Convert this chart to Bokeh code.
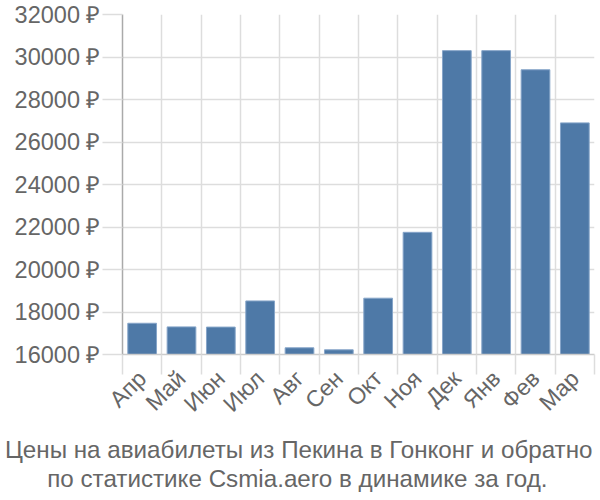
from bokeh.plotting import figure
from bokeh.models import FixedTicker, LinearAxis, Grid, Title, Range1d
from bokeh.embed import file_html
from bokeh.resources import INLINE

months = ["Апр", "Май", "Июн", "Июл", "Авг", "Сен", "Окт", "Ноя", "Дек", "Янв", "Фев", "Мар"]
prices = [17470, 17300, 17290, 18520, 16315, 16220, 18650, 21750, 30300, 30300, 29400, 26900]
y_ticks = [16000, 18000, 20000, 22000, 24000, 26000, 28000, 30000, 32000]
title_lines = ["Цены на авиабилеты из Пекина в Гонконг и обратно",
               "по статистике Csmia.aero в динамике за год."]

FONT = "Liberation Sans"
TXT = "#666666"
GRID = "#dddddd"

n = len(months)
centers = [i + 0.5 for i in range(n)]

p = figure(width=600, height=500, output_backend="svg", toolbar_location=None,
           x_range=Range1d(0, n), y_range=Range1d(16000, 32000),
           x_axis_location=None, y_axis_location=None,
           min_border_left=122, min_border_right=6, min_border_top=14, min_border_bottom=146)
p.outline_line_color = None
p.background_fill_color = "white"
p.border_fill_color = "white"

p.vbar(x=centers, top=prices, bottom=16000, width=0.73,
       fill_color="#4e79a7", line_color="#86a5c9", line_width=1)

# grids
p.xgrid.visible = False
p.ygrid.visible = False
p.add_layout(Grid(dimension=0, ticker=FixedTicker(ticks=list(range(n + 1))),
                  grid_line_color=GRID, grid_line_width=1.5))
p.add_layout(Grid(dimension=1, ticker=FixedTicker(ticks=y_ticks),
                  grid_line_color=GRID, grid_line_width=1.5))

# y axis
yax = LinearAxis(ticker=FixedTicker(ticks=y_ticks),
                 major_label_overrides={v: f"{v} ₽" for v in y_ticks})
yax.axis_line_color = "#aaaaaa"
yax.axis_line_width = 1.5
yax.major_tick_line_color = GRID
yax.major_tick_line_width = 1.5
yax.major_tick_out = 20
yax.major_tick_in = 0
yax.minor_tick_line_color = None
yax.major_label_standoff = 2
yax.major_label_text_font = FONT
yax.major_label_text_font_size = "23.5px"
yax.major_label_text_color = TXT
p.add_layout(yax, "left")

# x axis: boundary ticks
xt = LinearAxis(ticker=FixedTicker(ticks=list(range(n + 1))),
                major_label_overrides={i: "" for i in range(n + 1)})
xt.axis_line_color = "#cccccc"
xt.axis_line_width = 1.5
xt.major_tick_line_color = GRID
xt.major_tick_line_width = 1.5
xt.major_tick_out = 20
xt.major_tick_in = 0
xt.minor_tick_line_color = None
xt.major_label_text_font_size = "1px"
xt.major_label_standoff = 0
p.add_layout(xt, "below")

# x axis: labels
xl = LinearAxis(ticker=FixedTicker(ticks=centers),
                major_label_overrides={c: m for c, m in zip(centers, months)})
xl.axis_line_color = None
xl.major_tick_line_color = None
xl.minor_tick_line_color = None
xl.major_label_orientation = 0.785398
xl.major_label_standoff = -6
xl.major_label_text_font = FONT
xl.major_label_text_font_size = "23px"
xl.major_label_text_color = TXT
p.add_layout(xl, "below")


def make_title(text, off, so):
    kw = dict(text=text, align="right", offset=off,
              text_font=FONT, text_font_size="24.2px", text_font_style="normal",
              text_color=TXT)
    try:
        return Title(standoff=so, **kw)
    except Exception:
        return Title(standoff=max(so, 0), **kw)


# title lines below the chart (right edges matched to the reference)
p.add_layout(make_title(title_lines[0], 2, 10), "below")
p.add_layout(make_title(title_lines[1], 47, -10), "below")

open("out.html", "w").write(file_html(p, INLINE))
